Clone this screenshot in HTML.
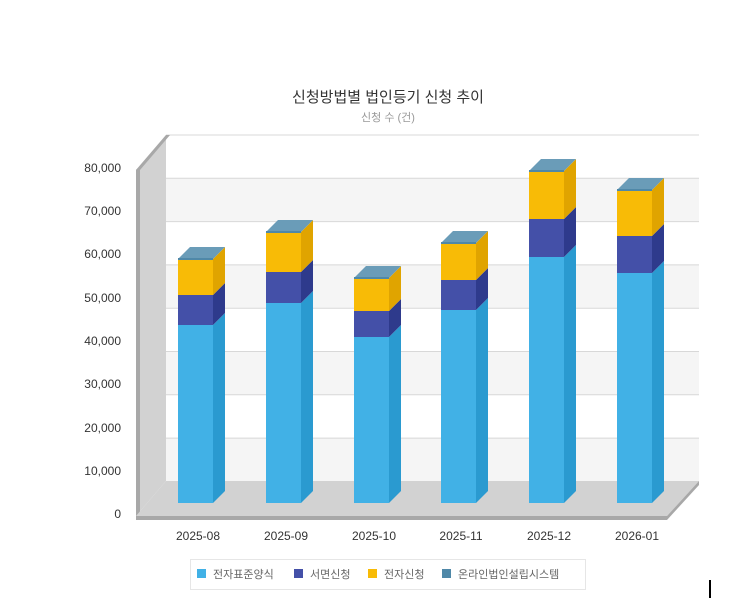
<!DOCTYPE html>
<html><head><meta charset="utf-8"><style>
body{margin:0;background:#fff;width:741px;height:602px;overflow:hidden}
text{font-family:"Liberation Sans","Noto Sans CJK KR",sans-serif}
</style></head><body>
<svg width="741" height="602" viewBox="0 0 741 602" xmlns="http://www.w3.org/2000/svg">
<text x="388" y="102" text-anchor="middle" font-size="15" fill="#333">신청방법별 법인등기 신청 추이</text>
<text x="388" y="121" text-anchor="middle" font-size="11" fill="#999">신청 수 (건)</text>
<!-- back wall bands -->
<rect x="166" y="135" width="533" height="43.3" fill="#fff"/>
<rect x="166" y="178.3" width="533" height="43.3" fill="#f5f5f5"/>
<rect x="166" y="221.6" width="533" height="43.3" fill="#fff"/>
<rect x="166" y="264.9" width="533" height="43.3" fill="#f5f5f5"/>
<rect x="166" y="308.2" width="533" height="43.3" fill="#fff"/>
<rect x="166" y="351.5" width="533" height="43.3" fill="#f5f5f5"/>
<rect x="166" y="394.8" width="533" height="43.3" fill="#fff"/>
<rect x="166" y="438.1" width="533" height="43" fill="#f5f5f5"/>
<g stroke="#d8d8d8" stroke-width="1">
<line x1="166" y1="135" x2="699" y2="135"/><line x1="166" y1="178.3" x2="699" y2="178.3"/>
<line x1="166" y1="221.6" x2="699" y2="221.6"/><line x1="166" y1="264.9" x2="699" y2="264.9"/>
<line x1="166" y1="308.2" x2="699" y2="308.2"/><line x1="166" y1="351.5" x2="699" y2="351.5"/>
<line x1="166" y1="394.8" x2="699" y2="394.8"/><line x1="166" y1="438.1" x2="699" y2="438.1"/>
</g>
<!-- left wall -->
<polygon points="166,135 166,481 136,516 136,170" fill="#d2d2d2"/>
<polygon points="136,170 140,166 140,514 136,518" fill="#a8a8a8"/>
<polygon points="136,170 166,135 170,135 140,170" fill="#a8a8a8"/>
<!-- floor -->
<polygon points="166,481 699,481 667,516 136,516" fill="#d2d2d2"/>
<polygon points="136,516 667,516 667,520 136,520" fill="#a8a8a8"/>
<polygon points="667,516 699,481 699,485 667,520" fill="#a8a8a8"/>
<g id="bars"></g>
<g font-size="12" fill="#333" text-anchor="end">
<text x="121" y="518">0</text><text x="121" y="475">10,000</text><text x="121" y="432">20,000</text>
<text x="121" y="388">30,000</text><text x="121" y="345">40,000</text><text x="121" y="302">50,000</text>
<text x="121" y="258">60,000</text><text x="121" y="215">70,000</text><text x="121" y="172">80,000</text>
</g>
<g font-size="12" fill="#333" text-anchor="middle">
<text x="198" y="540">2025-08</text><text x="286" y="540">2025-09</text><text x="374" y="540">2025-10</text>
<text x="461" y="540">2025-11</text><text x="549" y="540">2025-12</text><text x="637" y="540">2026-01</text>
</g>
<rect x="190.5" y="559.5" width="395" height="30" fill="#fff" stroke="#e6e6e6"/>
<g font-size="11" fill="#666">
<rect x="197" y="569" width="9" height="9" fill="#41b1e6"/><text x="213" y="578">전자표준양식</text>
<rect x="294" y="569" width="9" height="9" fill="#4450a8"/><text x="310" y="578">서면신청</text>
<rect x="368" y="569" width="9" height="9" fill="#f8bb06"/><text x="384" y="578">전자신청</text>
<rect x="442" y="569" width="9" height="9" fill="#4f88a8"/><text x="458" y="578">온라인법인설립시스템</text>
</g>
<rect x="709" y="580" width="2" height="18" fill="#000"/>
</svg>
<script>
var d=[[178,325,295,259],[266,303,272,232],[354,337,311,278],[441,310,280,243],[529,257,219,171],[617,273,236,190]];
var cols=[["#41b1e6","#2a9ad0"],["#4450a8","#2e3a8c"],["#f8bb06","#e0a400"]];
var s='';var w=35,k=12;
d.forEach(function(b){var x=b[0],ys=[503,b[1],b[2],b[3]];
for(var i=0;i<3;i++){var y0=ys[i],y1=ys[i+1];
s+='<rect x="'+x+'" y="'+y1+'" width="'+w+'" height="'+(y0-y1)+'" fill="'+cols[i][0]+'"/>';
s+='<polygon points="'+(x+w)+','+y0+' '+(x+w+k)+','+(y0-k)+' '+(x+w+k)+','+(y1-k)+' '+(x+w)+','+y1+'" fill="'+cols[i][1]+'"/>';}
var t=b[3];
s+='<polygon points="'+x+','+t+' '+(x+k)+','+(t-k)+' '+(x+w+k)+','+(t-k)+' '+(x+w)+','+t+'" fill="#6a9cb8"/>';
s+='<rect x="'+x+'" y="'+(t-1)+'" width="'+w+'" height="2" fill="#4f88a8"/>';
});
document.getElementById('bars').innerHTML=s;
</script>
</body></html>
